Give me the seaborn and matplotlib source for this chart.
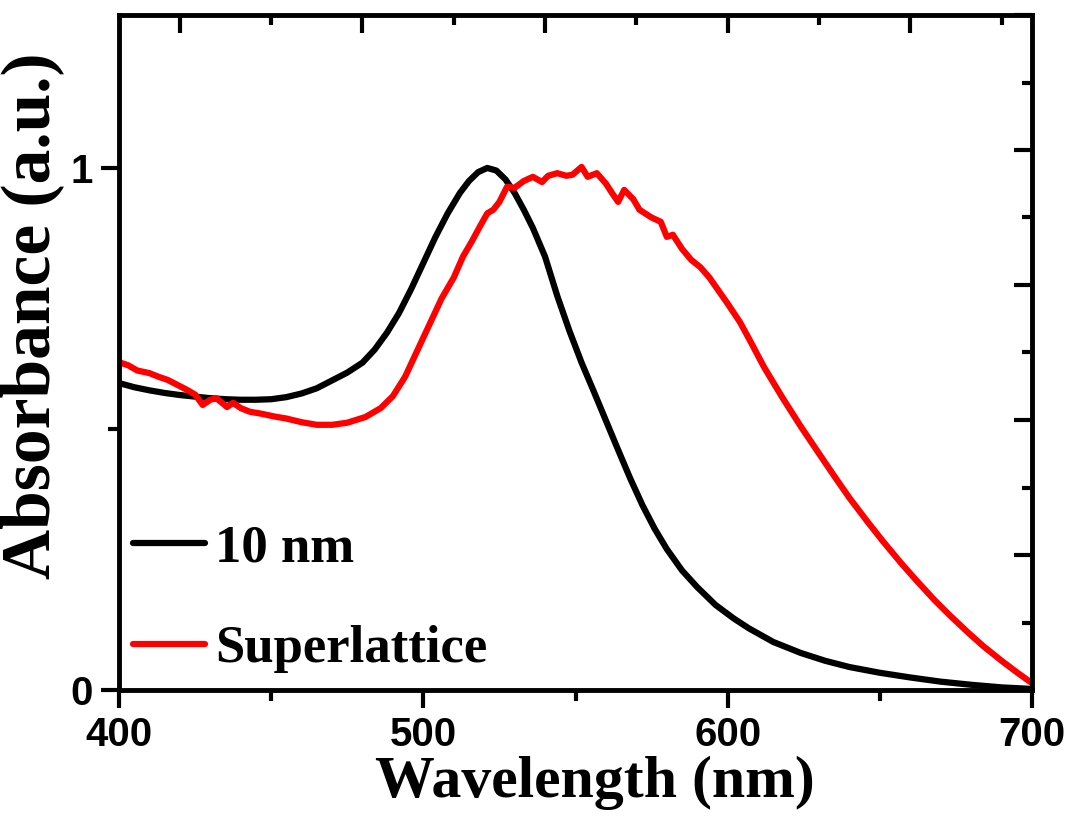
import matplotlib
matplotlib.use("Agg")
import matplotlib.pyplot as plt
import seaborn as sns
import pandas as pd
from matplotlib.ticker import MultipleLocator, NullFormatter
from matplotlib.lines import Line2D

# ---- data ----
wl_10nm = [400, 405, 410, 415, 420, 425, 430, 435, 440, 445, 450, 455, 460, 465, 470,
           475, 480, 484, 488, 492, 496, 500, 504, 508, 512, 515, 518, 521, 524, 527,
           530, 533, 536, 540, 544, 548, 552, 556, 560, 564, 568, 572, 576, 580, 585,
           590, 596, 602, 607, 615, 624, 632, 640, 650, 660, 670, 680, 690, 700]
abs_10nm = [0.588, 0.580, 0.574, 0.569, 0.565, 0.562, 0.559, 0.557, 0.556, 0.556, 0.557,
            0.561, 0.568, 0.578, 0.593, 0.608, 0.627, 0.652, 0.684, 0.722, 0.768, 0.818,
            0.868, 0.913, 0.952, 0.975, 0.992, 1.000, 0.995, 0.978, 0.952, 0.920, 0.885,
            0.830, 0.755, 0.688, 0.627, 0.572, 0.516, 0.460, 0.405, 0.354, 0.309, 0.270,
            0.229, 0.197, 0.163, 0.137, 0.118, 0.092, 0.071, 0.056, 0.044, 0.033, 0.024,
            0.016, 0.010, 0.005, 0.002]

wl_super = [400, 403, 406, 410, 413, 416, 419, 422, 425, 427.5, 430, 432, 435.5, 437.5,
            440, 443, 447, 451, 455, 460, 465, 470, 475, 481, 486, 490, 494, 498, 502,
            506, 510, 513, 516, 518.5, 521, 523, 525, 527.5, 530, 533, 536, 539, 541, 544,
            547, 549, 552, 554, 557, 560, 562, 564, 566, 569, 571, 575, 578, 580, 582,
            585, 588, 591, 594, 597, 600, 604, 607, 612, 618, 624, 630, 635, 640, 646,
            651, 657, 662, 668, 673, 679, 684, 690, 695, 700]
abs_super = [0.628, 0.622, 0.612, 0.607, 0.600, 0.594, 0.585, 0.576, 0.566, 0.546, 0.556,
             0.559, 0.542, 0.550, 0.540, 0.533, 0.529, 0.524, 0.520, 0.513, 0.508, 0.508,
             0.512, 0.523, 0.540, 0.563, 0.600, 0.650, 0.700, 0.750, 0.790, 0.830, 0.860,
             0.887, 0.913, 0.920, 0.935, 0.964, 0.962, 0.975, 0.983, 0.973, 0.985, 0.990,
             0.985, 0.987, 1.002, 0.983, 0.990, 0.970, 0.952, 0.935, 0.958, 0.940, 0.920,
             0.905, 0.897, 0.868, 0.872, 0.845, 0.824, 0.810, 0.790, 0.765, 0.740, 0.705,
             0.673, 0.618, 0.560, 0.505, 0.453, 0.410, 0.368, 0.322, 0.285, 0.243, 0.210,
             0.172, 0.143, 0.110, 0.084, 0.056, 0.034, 0.013]

labels = ["10 nm", "Superlattice"]
colors = ["#000000", "#ff0000"]
x_ticks = [400, 500, 600, 700]
y_ticks = [0, 1]

df = pd.concat([
    pd.DataFrame({"Wavelength": wl_10nm, "Absorbance": abs_10nm, "Sample": labels[0]}),
    pd.DataFrame({"Wavelength": wl_super, "Absorbance": abs_super, "Sample": labels[1]}),
])

sns.set_style("ticks")
plt.rcParams["font.family"] = ["Liberation Sans", "DejaVu Sans"]
plt.rcParams["text.color"] = "black"
plt.rcParams["axes.labelcolor"] = "black"
plt.rcParams["xtick.color"] = "black"
plt.rcParams["ytick.color"] = "black"
plt.rcParams["axes.edgecolor"] = "black"

fig = plt.figure(figsize=(10.72, 8.18), dpi=100)
ax = fig.add_axes([119 / 1072, 128 / 818, 913 / 1072, 675 / 818])

sns.lineplot(data=df, x="Wavelength", y="Absorbance", hue="Sample",
             palette=dict(zip(labels, colors)), linewidth=4.5, sort=False,
             estimator=None, legend=False, ax=ax)

ax.set_xlim(400, 700)
ax.set_ylim(0, 1.293)
ax.set_xticks(x_ticks)
ax.xaxis.set_minor_locator(MultipleLocator(50))
ax.set_yticks(y_ticks)
ax.yaxis.set_minor_locator(MultipleLocator(0.5))
ax.tick_params(axis="both", which="major", direction="out", length=13, width=3,
               labelsize=29, pad=6, top=False, right=False, colors="black")
ax.tick_params(axis="both", which="minor", direction="out", length=8, width=3,
               top=False, right=False, colors="black")
for lab in ax.get_xticklabels() + ax.get_yticklabels():
    lab.set_fontweight("bold")
    lab.set_family(["Liberation Sans", "DejaVu Sans"])

for sp in ax.spines.values():
    sp.set_linewidth(3.5)
    sp.set_color("black")

ax.set_xlabel("Wavelength (nm)", fontsize=43, fontweight="bold", color="black",
              family=["Liberation Serif", "DejaVu Serif"])
ax.set_ylabel("Absorbance (a.u.)", fontsize=50, fontweight="bold", color="black",
              family=["Liberation Serif", "DejaVu Serif"])
ax.xaxis.set_label_coords(0.521, -0.097)
ax.yaxis.set_label_coords(-0.060, 0.554)

# right axis ticks (unlabelled)
ax_r = ax.twinx()
ax_r.set_ylim(0, 1)
ax_r.yaxis.set_major_locator(MultipleLocator(0.2))
ax_r.yaxis.set_minor_locator(MultipleLocator(0.1))
ax_r.yaxis.set_major_formatter(NullFormatter())
ax_r.tick_params(axis="y", which="major", direction="in", length=13, width=3, colors="black")
ax_r.tick_params(axis="y", which="minor", direction="in", length=7, width=3, colors="black")
for sp in ax_r.spines.values():
    sp.set_visible(False)

# top axis ticks (unlabelled)
ax_t = ax.twiny()
ax_t.set_xlim(400, 700)
ax_t.xaxis.set_major_locator(MultipleLocator(60))
ax_t.xaxis.set_minor_locator(MultipleLocator(30))
ax_t.xaxis.set_major_formatter(NullFormatter())
ax_t.tick_params(axis="x", which="major", direction="in", length=13, width=3, colors="black")
ax_t.tick_params(axis="x", which="minor", direction="in", length=7, width=3, colors="black")
for sp in ax_t.spines.values():
    sp.set_visible(False)

handles = [Line2D([0], [0], color=c, lw=4.5) for c in colors]
leg = ax.legend(handles, labels, loc="lower left", bbox_to_anchor=(0.0, 0.004),
                frameon=False, handlelength=1.35, handletextpad=0.2,
                labelspacing=1.0, borderaxespad=0.0, borderpad=0.27,
                prop={"family": ["Liberation Serif", "DejaVu Serif"],
                      "weight": "bold", "size": 38})
for t in leg.get_texts():
    t.set_color("black")

fig.savefig("out.png", dpi=100)
